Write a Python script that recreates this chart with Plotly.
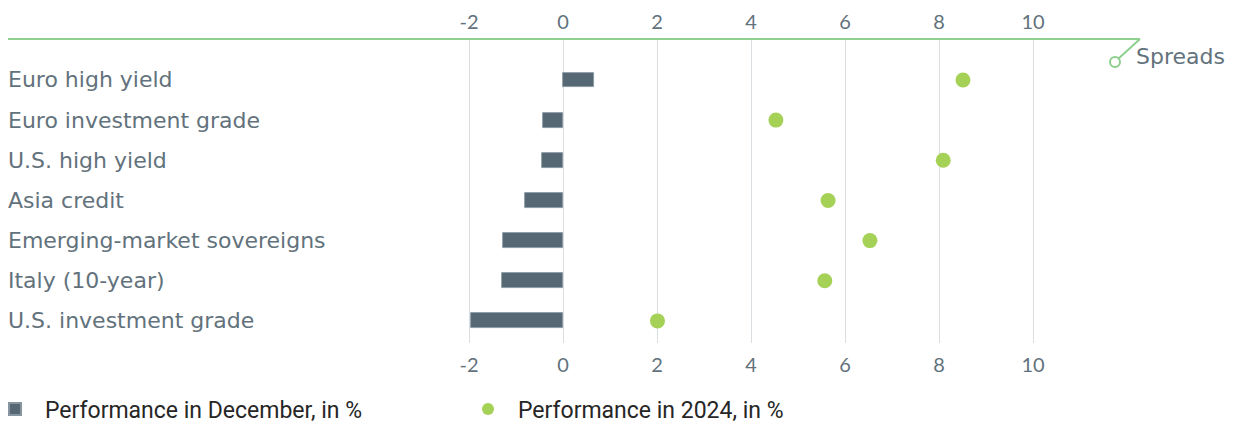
import plotly.graph_objects as go

W, H = 1236, 423

categories = ["Euro high yield", "Euro investment grade", "U.S. high yield", "Asia credit",
              "Emerging-market sovereigns", "Italy (10-year)", "U.S. investment grade"]
perf_december = [0.66, -0.43, -0.45, -0.81, -1.28, -1.30, -1.96]
perf_2024 = [8.51, 4.53, 8.09, 5.64, 6.53, 5.57, 2.01]
tick_vals = [-2, 0, 2, 4, 6, 8, 10]
tick_text = ["-2", "0", "2", "4", "6", "8", "10"]
series_names = ["Performance in December, in %", "Performance in 2024, in %"]
annotation_text = "Spreads"

BAR_COLOR = "#566873"
DOT_COLOR = "#a6d157"
GREEN_LINE = "#8dd08d"
TEXT_COLOR = "#62727c"
FONT = "DejaVu Sans, sans-serif"
LEG_FONT = dict(family="Roboto, sans-serif", size=23, color="#262626")

def px(x):
    return x / W

def py(y):
    return 1 - y / H

rows = list(range(len(categories)))

fig = go.Figure()
fig.add_trace(go.Bar(
    x=perf_december, y=rows, orientation="h", width=0.37,
    marker=dict(color=BAR_COLOR, line=dict(color="#8795a0", width=0.8)),
    name=series_names[0], showlegend=True, legend="legend",
))
fig.add_trace(go.Scatter(
    x=perf_2024, y=rows, mode="markers",
    marker=dict(color=DOT_COLOR, size=15, line=dict(width=0)),
    name=series_names[1], showlegend=True, legend="legend2",
))
fig.add_trace(go.Scatter(x=[tick_vals[0]], y=[0], xaxis="x2", mode="markers",
                         marker=dict(opacity=0), showlegend=False, hoverinfo="skip"))

x0 = (8 - 563) / 47.0
x1 = (1140 - 563) / 47.0
axis_common = dict(
    range=[x0, x1], tickvals=tick_vals, ticktext=tick_text,
    showgrid=True, gridcolor="#d9dee2", gridwidth=1, zeroline=False,
    showline=False, tickfont=dict(family="Lato, sans-serif", size=20, color=TEXT_COLOR),
    ticks="", domain=[px(8), px(1140)], automargin=False,
)
legend_common = dict(orientation="v", yanchor="middle", xanchor="left", itemwidth=50,
                     font=LEG_FONT, bgcolor="rgba(0,0,0,0)", itemsizing="constant")
fig.update_layout(
    width=W, height=H,
    margin=dict(l=0, r=0, t=0, b=0, autoexpand=False),
    paper_bgcolor="white", plot_bgcolor="white",
    xaxis=dict(**axis_common, ticklabelstandoff=8),
    xaxis2=dict(**axis_common, overlaying="x", side="top", matches="x", ticklabelstandoff=5),
    yaxis=dict(range=[6.55, -1.02], showticklabels=False, showgrid=False, zeroline=False,
               domain=[py(343), py(39)], automargin=False),
    bargap=0,
    legend=dict(**legend_common, x=px(-15), y=py(409)),
    legend2=dict(**legend_common, x=px(458), y=py(409)),
    showlegend=True,
)

for i, c in enumerate(categories):
    fig.add_annotation(x=px(6), xref="paper", y=i, yref="y", text=c, showarrow=False,
                       xanchor="left", yanchor="middle",
                       font=dict(family=FONT, size=22, color=TEXT_COLOR))

fig.add_shape(type="line", xref="paper", yref="paper", x0=px(8), x1=px(1140), y0=py(39), y1=py(39),
              line=dict(color=GREEN_LINE, width=2))
fig.add_shape(type="line", xref="paper", yref="paper", x0=px(1140), x1=px(1118), y0=py(39), y1=py(59),
              line=dict(color=GREEN_LINE, width=2))
fig.add_shape(type="circle", xref="paper", yref="paper", x0=px(1110), x1=px(1120), y0=py(57), y1=py(67),
              line=dict(color=GREEN_LINE, width=2), fillcolor="white")
fig.add_annotation(x=px(1134), xref="paper", y=py(57), yref="paper", text=annotation_text,
                   showarrow=False, xanchor="left", yanchor="middle",
                   font=dict(family=FONT, size=22, color=TEXT_COLOR))

fig.write_html("out.html")
